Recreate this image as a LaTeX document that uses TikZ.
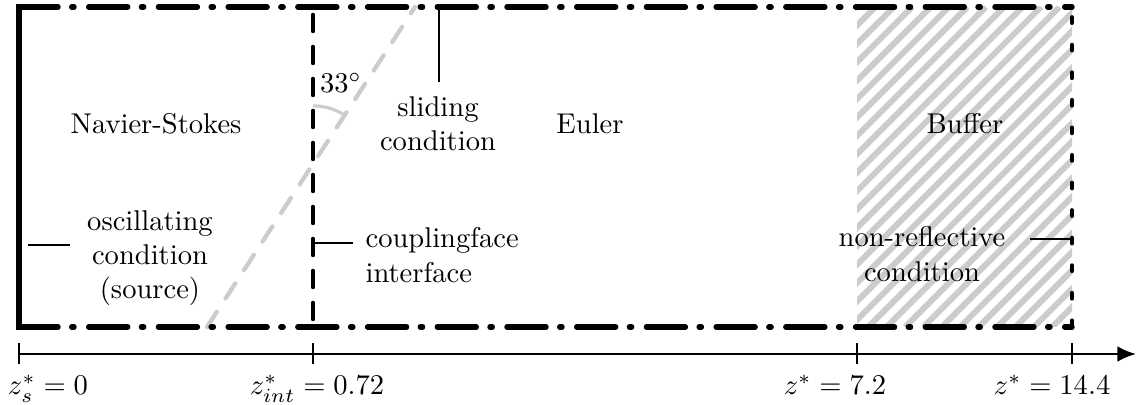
\documentclass[tikz,border=0pt]{standalone}
\usetikzlibrary{arrows.meta}
\begin{document}
\begin{tikzpicture}[x=0.35pt,y=-0.35pt,
  solidedge/.style={line width=1.9pt, line cap=rect},
  dashdot/.style={line width=1.9pt, line cap=round, dash pattern=on 13.65pt off 4.8pt on 0.8pt off 5.15pt},
  ifacestyle/.style={line width=1.6pt, line cap=round, dash pattern=on 5.6pt off 5.6pt, dash phase=8.4pt},
  outletstyle/.style={line width=1.7pt, line cap=round, dash pattern=on 1.75pt off 7.9pt, dash phase=5.95pt},
  cone/.style={line width=1.5pt, black!20, line cap=round, dash pattern=on 6.3pt off 5.6pt},
  anglearc/.style={line width=1.1pt, black!20},
  leader/.style={line width=0.4pt},
  hatchline/.style={line width=2.1pt, black!20},
  axisline/.style={line width=0.9pt, -{Latex[length=6.5pt,width=5.5pt]}},
  tickmark/.style={line width=0.4pt},
  lbl/.style={align=center, inner sep=0pt},
]
\useasboundingbox (0,0) rectangle (1137,405);

% corners and division points
\coordinate (A) at (19,7);
\coordinate (B) at (19,327);
\coordinate (C) at (1072,7);
\coordinate (D) at (1072,327);
\coordinate (It) at (313,7);
\coordinate (Ib) at (313,327);

% buffer hatching
\begin{scope}
  \clip (857,7) rectangle (1072,327);
  \foreach \i in {0,...,31} \draw[hatchline] ({537+\i*18.4},327) -- ++(320,-320);
\end{scope}

% inclined (33 deg) boundary
\coordinate (G0) at (207,327);
\coordinate (G1) at (415,7);
\draw[cone] (G0) -- (G1);
\coordinate (X) at (313,163.8);
\draw[anglearc] (X) ++(0,-58) arc (-90:-57:58);

% domain boundaries
\draw[dashdot] (A) -- (C);
\draw[dashdot] (B) -- (D);
\draw[solidedge] (A) -- (B);
\draw[ifacestyle] (It) -- (Ib);
\draw[outletstyle] (C) -- (D);

% region labels
\node[lbl, anchor=base] (ns) at (156,134) {Navier-Stokes};
\node[lbl, anchor=base] (eu) at (590,134) {Euler};
\node[lbl, anchor=base] (bf) at (965,134) {Buffer};
\node[lbl] (ang) at (341,83) {$33^\circ$};

% sliding condition
\node[lbl] (slide) at (438,124) {sliding\\condition};
\coordinate (s0) at (439,7);
\coordinate (s1) at (439,82);
\draw[leader] (s0) -- (s1);

% oscillating condition
\node[lbl] (osc) at (150,258) {oscillating\\condition\\(source)};
\coordinate (o0) at (28,245);
\coordinate (o1) at (70,245);
\draw[leader] (o0) -- (o1);

% coupling interface
\node[lbl, align=left, anchor=west] (cpl) at (365,255) {couplingface\\interface};
\coordinate (c0) at (314,243);
\coordinate (c1) at (353,243);
\draw[leader] (c0) -- (c1);

% non-reflective
\node[lbl] (nr) at (922,254) {non-reflective\\condition};
\coordinate (n0) at (1030,239);
\coordinate (n1) at (1071,239);
\draw[leader] (n0) -- (n1);

% axis
\coordinate (ax0) at (19,354);
\coordinate (ax1) at (1136,354);
\draw[axisline] (ax0) -- (ax1);
\foreach \x in {19,313,857,1072} \draw[tickmark] (\x,343) -- (\x,364);
\node[anchor=base] (z0) at (48,395) {$z_s^*=0$};
\node[anchor=base] (z1) at (317,395) {$z_{int}^*=0.72$};
\node[anchor=base] (z2) at (835,395) {$z^*=7.2$};
\node[anchor=base] (z3) at (1052,395) {$z^*=14.4$};
\end{tikzpicture}
\end{document}
